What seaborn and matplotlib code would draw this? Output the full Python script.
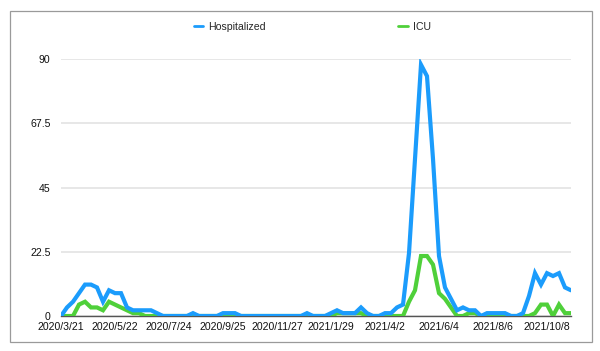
import matplotlib
matplotlib.use("Agg")
import matplotlib.pyplot as plt
from matplotlib.patches import Rectangle
from matplotlib.lines import Line2D
import numpy as np
import pandas as pd
import seaborn as sns

# ---- data ----
first_date = ["2020/3/21"]
weekly = pd.date_range("2020-03-27", periods=85, freq="7D")
dates = first_date + [f"{d.year}/{d.month}/{d.day}" for d in weekly]

hospitalized = [0, 3, 5, 8, 11, 11, 10, 5, 9, 8,
                8, 3, 2, 2, 2, 2, 1, 0, 0, 0,
                0, 0, 1, 0, 0, 0, 0, 1, 1, 1,
                0, 0, 0, 0, 0, 0, 0, 0, 0, 0,
                0, 1, 0, 0, 0, 1, 2, 1, 1, 1,
                3, 1, 0, 0, 1, 1, 3, 4, 22, 55,
                88, 84, 55, 21, 10, 6, 2, 3, 2, 2,
                0, 1, 1, 1, 1, 0, 0, 1, 7, 15,
                11, 15, 14, 15, 10, 9]
icu = [0, 0, 0, 4, 5, 3, 3, 2, 5, 4,
       3, 2, 1, 1, 0, 0, 0, 0, 0, 0,
       0, 0, 0, 0, 0, 0, 0, 0, 0, 0,
       0, 0, 0, 0, 0, 0, 0, 0, 0, 0,
       0, 0, 0, 0, 0, 0, 1, 1, 1, 1,
       1, 0, 0, 0, 0, 0, 0, 0, 5, 9,
       21, 21, 18, 8, 6, 3, 0, 0, 1, 1,
       0, 0, 0, 0, 0, 0, 0, 0, 0, 1,
       4, 4, 0, 4, 1, 1]
y_ticks = [0, 22.5, 45, 67.5, 90]
y_tick_labels = ["0", "22.5", "45", "67.5", "90"]
series_names = ["Hospitalized", "ICU"]

df = pd.DataFrame({"idx": np.arange(len(dates)), "date": dates,
                   "Hospitalized": hospitalized, "ICU": icu})

sns.set_theme(style="white")
plt.rcParams["font.family"] = ["Liberation Sans", "DejaVu Sans"]

BLUE = "#1b9cfc"
GREEN = "#4fd03a"

fig = plt.figure(figsize=(6.0, 3.51), dpi=100)
fig.patch.set_facecolor("white")

# frame with soft shadow
W, H = 600, 351
def fx(px): return px / W
def fy(py): return (H - py) / H
shadow = Rectangle((fx(11), fy(343)), fx(592) - fx(11), fy(12) - fy(343),
                   transform=fig.transFigure, facecolor="#d0d0d0", edgecolor="none", zorder=-2)
fig.patches.append(shadow)
frame = Rectangle((fx(9.5), fy(341.5)), fx(591.5) - fx(9.5), fy(10.5) - fy(341.5),
                  transform=fig.transFigure, facecolor="white", edgecolor="#9a9a9a",
                  linewidth=0.9, zorder=-1)
fig.patches.append(frame)

ax = fig.add_axes([fx(61), fy(316), fx(571) - fx(61), fy(59) - fy(316)])
ax.set_zorder(5)
ax.set_facecolor("none")

sns.lineplot(data=df, x="idx", y="ICU", ax=ax, color=GREEN, linewidth=3.0,
             solid_joinstyle="miter", zorder=3)
sns.lineplot(data=df, x="idx", y="Hospitalized", ax=ax, color=BLUE, linewidth=3.0,
             solid_joinstyle="miter", zorder=4)

ax.set_xlim(0, len(dates) - 1)
ax.set_ylim(0, 90)
ax.set_xlabel("")
ax.set_ylabel("")

tick_idx = list(range(0, len(dates), 9))
ax.set_xticks(tick_idx)
ax.set_xticklabels([dates[i] for i in tick_idx], fontsize=7.6, color="#111111")
ax.set_yticks(y_ticks)
ax.set_yticklabels(y_tick_labels, fontsize=7.6, color="#111111")
ax.tick_params(axis="both", length=0)
ax.tick_params(axis="y", pad=7.5)
ax.tick_params(axis="x", pad=4)

ax.yaxis.grid(True, color="#e3e3e3", linewidth=1.2)
ax.xaxis.grid(False)
for s in ["top", "right", "left"]:
    ax.spines[s].set_visible(False)
ax.spines["bottom"].set_color("#555555")
ax.spines["bottom"].set_linewidth(1.0)
ax.spines["bottom"].set_zorder(2)

handles = [Line2D([], [], color=BLUE, linewidth=2.0),
           Line2D([], [], color=GREEN, linewidth=2.0)]
leg = fig.legend(handles, series_names, loc="center", ncol=2,
                 bbox_to_anchor=(fx(312), fy(27)), frameon=False,
                 fontsize=7.6, handlelength=0.9, handletextpad=0.45,
                 columnspacing=12.6)

fig.savefig("out.png", dpi=100, facecolor="white")
